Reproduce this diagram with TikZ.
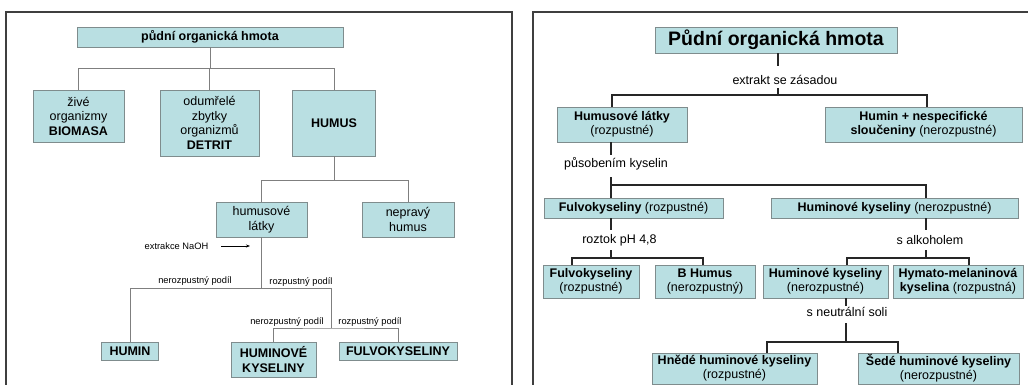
\documentclass[tikz,border=0pt]{standalone}
\usepackage{fontspec}
\setmainfont{Liberation Sans}
\usetikzlibrary{arrows.meta}
\definecolor{boxfill}{HTML}{B9DFE2}
\definecolor{boxline}{HTML}{7F8C8D}
\definecolor{framecol}{HTML}{3F3F3F}
\definecolor{lconn}{HTML}{7F7F7F}
\definecolor{rconn}{HTML}{262626}
\tikzset{
  lbox/.style={draw=boxline, fill=boxfill, line width=0.8pt, align=center, inner sep=0pt,
    font=\fontsize{12.5}{14.5}\selectfont},
  rbox/.style={draw=boxline, fill=boxfill, line width=0.8pt, align=center, inner sep=0pt,
    font=\fontsize{12.5}{14}\selectfont},
  llab/.style={inner sep=0pt, font=\fontsize{9.3}{11}\selectfont},
  rlab/.style={inner sep=0pt, font=\fontsize{12.5}{14}\selectfont},
  lline/.style={draw=lconn, line width=0.8pt},
  rline/.style={draw=rconn, line width=1.6pt},
  framepath/.style={draw=framecol, line width=2pt}
}
\begin{document}
\begin{tikzpicture}[x=1pt,y=-1pt]
\clip (0,0) rectangle (1028,385);
\fill[white] (0,0) rectangle (1028,385);
% frames
\draw[framepath] (6,392) -- (6,12) -- (512,12) -- (512,392);
\draw[framepath] (533,392) -- (533,12) -- (1040,12);

% ---------------- left panel ----------------
\node[lbox, minimum width=266pt, minimum height=20pt] (top) at (210,37) {\textbf{půdní organická hmota}};
\node[lbox, minimum width=91pt, minimum height=52pt] (bio) at (78.5,116) {živé\\organizmy\\\textbf{BIOMASA}};
\node[lbox, minimum width=99pt, minimum height=66pt] (det) at (209.5,123) {odumřelé\\zbytky\\organizmů\\\textbf{DETRIT}};
\node[lbox, minimum width=83pt, minimum height=66pt] (hum) at (334,123) {\textbf{HUMUS}};
\node[lbox, minimum width=91pt, minimum height=35pt] (hl) at (261.5,219.5) {humusové\\látky};
\node[lbox, minimum width=92pt, minimum height=35pt] (nh) at (408,219.5) {nepravý\\humus};
\node[lbox, minimum width=57pt, minimum height=18pt] (humin) at (130,351) {\textbf{HUMIN}};
\node[lbox, minimum width=85pt, minimum height=35pt] (hk) at (273.5,359.5) {\textbf{HUMINOVÉ}\\\textbf{KYSELINY}};
\node[lbox, minimum width=118pt, minimum height=18pt] (fk) at (398,351) {\textbf{FULVOKYSELINY}};

\coordinate (b1) at (0,68);
\draw[lline] (top.south) -- (top.south |- b1);
\draw[lline] (bio.north) |- (hum.north |- b1) -- (hum.north);
\draw[lline] (det.north) -- (det.north |- b1);

\coordinate (b2) at (0,180);
\draw[lline] (hum.south) -- (hum.south |- b2);
\draw[lline] (hl.north) |- (nh.north |- b2) -- (nh.north);

\coordinate (b3) at (0,288);
\coordinate (s3) at (331,288);
\coordinate (s4) at (331,328);
\draw[lline] (hl.south) -- (hl.south |- b3);
\draw[lline] (humin.north) |- (s3) -- (s4);
\draw[lline] (hk.north) |- (s4) -| (fk.north);

\node[llab] (l1) at (195,281) {nerozpustný podíl};
\node[llab] (l2) at (301,282) {rozpustný podíl};
\node[llab] (l3) at (287,322) {nerozpustný podíl};
\node[llab] (l4) at (370,322) {rozpustný podíl};
\node[llab] (ex) at (176.5,246) {extrakce NaOH};
\coordinate (exend) at (250,246);
\draw[draw=black, line width=0.6pt, -{Stealth[length=4pt,width=3pt]}] ([xshift=13pt]ex.east) -- (exend);

% ---------------- right panel ----------------
\node[rbox, minimum width=242pt, minimum height=26pt, font=\fontsize{19.5}{22}\selectfont\bfseries] (rt) at (776,40) {Půdní organická hmota};
\node[rbox, minimum width=130pt, minimum height=35pt] (rhl) at (622,124.5) {\textbf{Humusové látky}\\(rozpustné)};
\node[rbox, minimum width=197pt, minimum height=35pt] (rhn) at (923.5,124.5) {\textbf{Humin + nespecifické}\\\textbf{sloučeniny} (nerozpustné)};
\node[rbox, minimum width=179pt, minimum height=20pt] (rfr) at (633.5,208) {\textbf{Fulvokyseliny} (rozpustné)};
\node[rbox, minimum width=247pt, minimum height=20pt] (rhr) at (894.5,208) {\textbf{Huminové kyseliny} (nerozpustné)};
\node[rbox, minimum width=96pt, minimum height=33pt] (rf2) at (591,281.5) {\textbf{Fulvokyseliny}\\(rozpustné)};
\node[rbox, minimum width=100pt, minimum height=33pt] (rbh) at (705,281.5) {\textbf{B Humus}\\(nerozpustný)};
\node[rbox, minimum width=125pt, minimum height=33pt] (rhk) at (825.5,281.5) {\textbf{Huminové kyseliny}\\(nerozpustné)};
\node[rbox, minimum width=130pt, minimum height=33pt] (rhm) at (958,281.5) {\textbf{Hymato-melaninová}\\\textbf{kyselina} (rozpustná)};
\node[rbox, minimum width=165pt, minimum height=31pt] (rhd) at (734.5,368.5) {\textbf{Hnědé huminové kyseliny}\\(rozpustné)};
\node[rbox, minimum width=161pt, minimum height=31pt] (rse) at (938.5,368.5) {\textbf{Šedé huminové kyseliny}\\(nerozpustné)};

% labels
\node[rlab] (ra1) at (785,80) {extrakt se zásadou};
\node[rlab] (ra2) at (616,164) {působením kyselin};
\node[rlab] (ra3) at (619.5,240) {roztok pH 4,8};
\node[rlab] (ra4) at (930,240) {s alkoholem};
\node[rlab] (ra5) at (847,312) {s neutrální soli};

% level 1
\coordinate (rb0) at (778,95);
\coordinate (rbL) at (612,95);
\coordinate (rbR) at (927,95);
\draw[rline] (rt.south -| rb0) -- ++(0,13);
\draw[rline] (rb0) -- ++(0,-7);
\draw[rline] (rbL |- rhl.north) |- (rbR) -- (rbR |- rhn.north);

% level 2
\coordinate (rc1) at (611,185);
\coordinate (rc2) at (926,185);
\draw[rline] (rhl.south -| rc1) -- ++(0,13);
\draw[rline] (rc1) -- ++(0,-8);
\draw[rline] (rc1 |- rfr.north) |- (rc2) -- (rc2 |- rhr.north);

% level 3 left
\coordinate (rd0) at (611,258);
\coordinate (rdL) at (572,258);
\coordinate (rdR) at (703,258);
\draw[rline] (rfr.south -| rd0) -- ++(0,12);
\draw[rline] (rd0) -- ++(0,-8);
\draw[rline] (rdL |- rf2.north) |- (rdR) -- (rdR |- rbh.north);

% level 3 right
\coordinate (re0) at (926,258);
\coordinate (reL) at (847,258);
\coordinate (reR) at (969,258);
\draw[rline] (rhr.south -| re0) -- ++(0,12);
\draw[rline] (re0) -- ++(0,-8);
\draw[rline] (reL |- rhk.north) |- (reR) -- (reR |- rhm.north);

% level 4
\coordinate (rf0) at (846,342);
\coordinate (rfL) at (767,342);
\coordinate (rfR) at (898,342);
\draw[rline] (rhk.south -| rf0) -- ++(0,8);
\draw[rline] (rf0) -- ++(0,-19);
\draw[rline] (rfL |- rhd.north) |- (rfR) -- (rfR |- rse.north);
\end{tikzpicture}
\end{document}
